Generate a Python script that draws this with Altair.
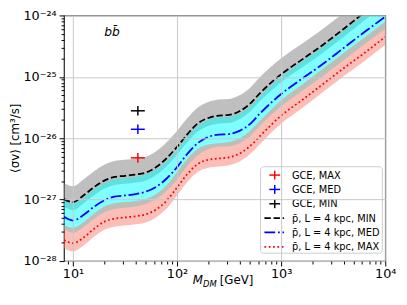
import altair as alt
import pandas as pd

# ---------------- data ----------------
MASS = [8.2, 10, 12.6, 15.8, 20, 25, 31.6, 40, 50, 63, 79, 100, 126, 158, 200,
        251, 316, 398, 501, 631, 1000, 1585, 2512, 3981, 6310, 10000]
SV_MIN = [1.02e-27, 9.1e-28, 1.17e-27, 1.58e-27, 2.04e-27, 2.34e-27, 2.45e-27,
          2.57e-27, 2.75e-27, 3.39e-27, 4.68e-27, 7.24e-27, 1.17e-26, 1.74e-26,
          2.14e-26, 2.34e-26, 2.40e-26, 2.75e-26, 3.63e-26, 5.50e-26, 1.10e-25,
          1.91e-25, 3.31e-25, 6.03e-25, 1.12e-24, 2.0e-24]
SV_MED = [5.25e-28, 4.57e-28, 5.62e-28, 7.59e-28, 9.77e-28, 1.12e-27, 1.17e-27,
          1.23e-27, 1.35e-27, 1.62e-27, 2.19e-27, 3.39e-27, 5.62e-27, 8.32e-27,
          1.05e-26, 1.15e-26, 1.17e-26, 1.32e-26, 1.70e-26, 2.57e-26, 5.25e-26,
          9.33e-26, 1.62e-25, 2.95e-25, 5.37e-25, 9.55e-25]
SV_MAX = [2.19e-28, 1.95e-28, 2.40e-28, 3.31e-28, 4.37e-28, 4.90e-28, 5.13e-28,
          5.37e-28, 5.75e-28, 6.92e-28, 9.55e-28, 1.58e-27, 2.63e-27, 3.80e-27,
          4.47e-27, 4.68e-27, 4.90e-27, 5.62e-27, 7.41e-27, 1.10e-26, 2.34e-26,
          4.17e-26, 7.59e-26, 1.38e-25, 2.45e-25, 4.47e-25]
# band half-widths (in decades)
BAND_UP_DEX = {"MIN": 0.26, "MED": 0.28, "MAX": 0.25}
BAND_LO_DEX = {"MIN": 0.13, "MED": 0.20, "MAX": 0.13}

GCE_MODEL = ["MAX", "MED", "MIN"]
GCE_MASS = [42.0, 42.0, 42.0]
GCE_MASS_LO = [36.0, 36.0, 36.0]
GCE_MASS_HI = [49.0, 49.0, 49.0]
GCE_SV = [4.8e-27, 1.4e-26, 2.8e-26]
GCE_SV_LO = [4.0e-27, 1.17e-26, 2.34e-26]
GCE_SV_HI = [5.75e-27, 1.68e-26, 3.35e-26]

X_MAJOR = [10, 100, 1000, 10000]
X_MAJOR_LABELS = ["10¹", "10²", "10³", "10⁴"]
Y_MAJOR = [1e-28, 1e-27, 1e-26, 1e-25, 1e-24]
Y_MAJOR_LABELS = ["10⁻²⁸", "10⁻²⁷", "10⁻²⁶", "10⁻²⁵", "10⁻²⁴"]

LEGEND_LABELS = ["GCE, MAX", "GCE, MED", "GCE, MIN",
                 "p̄, L = 4 kpc, MIN", "p̄, L = 4 kpc, MED", "p̄, L = 4 kpc, MAX"]
LEGEND_MODEL = ["MAX", "MED", "MIN", "MIN", "MED", "MAX"]
LEGEND_KIND = ["cross", "cross", "cross", "line", "line", "line"]

# ---------------- styles ----------------
FONT = "DejaVu Sans"
LINE_COLOR = {"MIN": "#000000", "MED": "#0000ff", "MAX": "#ff0000"}
BAND_COLOR = {"MIN": "#808080", "MED": "#00ffff", "MAX": "#fa8072"}
DASH = {"MIN": [6.5, 2.8], "MED": [11, 2.8, 1.8, 2.8], "MAX": [1.8, 2.6]}
W, H = 327, 250

# ---------------- tables ----------------
rows = []
for model, series in (("MIN", SV_MIN), ("MED", SV_MED), ("MAX", SV_MAX)):
    for m, v in zip(MASS, series):
        rows.append({"model": model, "mass": m, "sv": v,
                     "lo": v * 10 ** (-BAND_LO_DEX[model]),
                     "hi": v * 10 ** (BAND_UP_DEX[model])})
curves = pd.DataFrame(rows)
gce = pd.DataFrame({"model": GCE_MODEL, "mass": GCE_MASS, "mass_lo": GCE_MASS_LO,
                    "mass_hi": GCE_MASS_HI, "sv": GCE_SV, "sv_lo": GCE_SV_LO,
                    "sv_hi": GCE_SV_HI})
gce["col"] = gce["model"].map(LINE_COLOR)
one = pd.DataFrame({"k": [0]})

# ---------------- axes ----------------
x_minor = [9] + [k * d for d in (10, 100, 1000) for k in range(2, 10)]
y_minor = [k * d for d in Y_MAJOR[:-1] for k in range(2, 10)]


def label_expr(vals, labels):
    parts = [f"datum.value == {v!r} ? '{l}'" for v, l in zip(vals, labels)]
    return " : ".join(parts) + " : ''"


def major_test(vals):
    return " || ".join(f"datum.value == {v!r}" for v in vals)


def make_axis(majors, labels, minors, orient):
    t = major_test(majors)
    return alt.Axis(
        orient=orient, values=majors + minors, labelExpr=label_expr(majors, labels),
        title=None, grid=True, gridColor="#c8c8c8", gridWidth=1,
        gridOpacity={"condition": {"test": t, "value": 1}, "value": 0},
        tickSize={"condition": {"test": t, "value": 5}, "value": 3},
        tickColor="#000000", tickWidth=1, domain=False, zindex=1,
        labelFont=FONT, labelFontSize=13, labelColor="#000000",
        labelPadding=2 if orient == "bottom" else 3,
        labelOverlap=False, labelFlush=False,
    )


xaxis = make_axis(X_MAJOR, X_MAJOR_LABELS, x_minor, "bottom")
yaxis = make_axis(Y_MAJOR, Y_MAJOR_LABELS, y_minor, "left")
xscale = alt.Scale(type="log", domain=[8.2, 10000], nice=False)
yscale = alt.Scale(type="log", domain=[1e-28, 1e-24], nice=False)

# ---------------- layers ----------------
layers = []
for m in ("MIN", "MED", "MAX"):
    layers.append(
        alt.Chart(curves).transform_filter(alt.datum.model == m)
        .mark_area(color=BAND_COLOR[m], opacity=0.5, clip=True, interpolate="monotone")
        .encode(x=alt.X("mass:Q", scale=xscale, axis=xaxis),
                y=alt.Y("lo:Q", scale=yscale, axis=yaxis), y2="hi:Q")
    )
for m in ("MIN", "MED", "MAX"):
    layers.append(
        alt.Chart(curves).transform_filter(alt.datum.model == m)
        .mark_line(color=LINE_COLOR[m], strokeWidth=1.8, strokeDash=DASH[m],
                   clip=True, interpolate="monotone")
        .encode(x=alt.X("mass:Q", scale=xscale, axis=xaxis),
                y=alt.Y("sv:Q", scale=yscale, axis=yaxis))
    )
layers.append(
    alt.Chart(gce).mark_rule(strokeWidth=1.5).encode(
        x=alt.X("mass_lo:Q", scale=xscale, axis=xaxis), x2="mass_hi:Q",
        y=alt.Y("sv:Q", scale=yscale, axis=yaxis),
        color=alt.Color("col:N", scale=None))
)
layers.append(
    alt.Chart(gce).mark_rule(strokeWidth=1.5).encode(
        x=alt.X("mass:Q", scale=xscale, axis=xaxis),
        y=alt.Y("sv_lo:Q", scale=yscale, axis=yaxis), y2="sv_hi:Q",
        color=alt.Color("col:N", scale=None))
)

# annotation text
layers.append(alt.Chart(one).mark_text(font=FONT, fontSize=12.5, fontStyle="italic",
                                       align="left", baseline="alphabetic").encode(
    x=alt.value(41), y=alt.value(21), text=alt.value("bb\u0304")))
# y title
layers.append(alt.Chart(one).mark_text(font=FONT, fontSize=12, angle=270,
                                       align="center", baseline="alphabetic").encode(
    x=alt.value(-46), y=alt.value(H / 2), text=alt.value("⟨σv⟩ [cm³/s]")))
# x title: M_DM [GeV]
xt = 131
layers.append(alt.Chart(one).mark_text(font=FONT, fontSize=12, fontStyle="italic",
                                       align="left", baseline="alphabetic").encode(
    x=alt.value(xt), y=alt.value(H + 23), text=alt.value("M")))
layers.append(alt.Chart(one).mark_text(font=FONT, fontSize=8.5, fontStyle="italic",
                                       align="left", baseline="alphabetic").encode(
    x=alt.value(xt + 10.5), y=alt.value(H + 26), text=alt.value("DM")))
layers.append(alt.Chart(one).mark_text(font=FONT, fontSize=12,
                                       align="left", baseline="alphabetic").encode(
    x=alt.value(xt + 27.5), y=alt.value(H + 23), text=alt.value("[GeV]")))

# legend
LX0, LX1, LY0, LY1 = 200, 324, 154, 242
layers.append(alt.Chart(one).mark_rect(fill="#ffffff", fillOpacity=0.8, stroke="#cccccc",
                                       strokeWidth=1, cornerRadius=3).encode(
    x=alt.value(LX0), x2=alt.value(LX1), y=alt.value(LY0), y2=alt.value(LY1)))
for i, (lab, mod, kind) in enumerate(zip(LEGEND_LABELS, LEGEND_MODEL, LEGEND_KIND)):
    yy = LY0 + 8.5 + 14.6 * i
    if kind == "cross":
        layers.append(alt.Chart(one).mark_rule(color=LINE_COLOR[mod], strokeWidth=1.5).encode(
            x=alt.value(LX0 + 9), x2=alt.value(LX0 + 20), y=alt.value(yy)))
        layers.append(alt.Chart(one).mark_rule(color=LINE_COLOR[mod], strokeWidth=1.5).encode(
            x=alt.value(LX0 + 14.5), y=alt.value(yy - 4.5), y2=alt.value(yy + 4.5)))
    else:
        layers.append(alt.Chart(one).mark_rule(color=LINE_COLOR[mod], strokeWidth=1.8,
                                               strokeDash=DASH[mod]).encode(
            x=alt.value(LX0 + 4), x2=alt.value(LX0 + 24), y=alt.value(yy)))
    layers.append(alt.Chart(one).mark_text(font=FONT, fontSize=10, align="left",
                                           baseline="middle", color="#000000").encode(
        x=alt.value(LX0 + 32), y=alt.value(yy + 0.5), text=alt.value(lab)))

chart = alt.layer(*layers).properties(
    width=W, height=H,
    autosize=alt.AutoSizeParams(type="none"),
    padding={"left": 57, "top": 5, "right": 14, "bottom": 34},
).configure_view(stroke="#222222", strokeWidth=1.2)

chart.save("out.html", embed_options={"renderer": "svg", "actions": False})
